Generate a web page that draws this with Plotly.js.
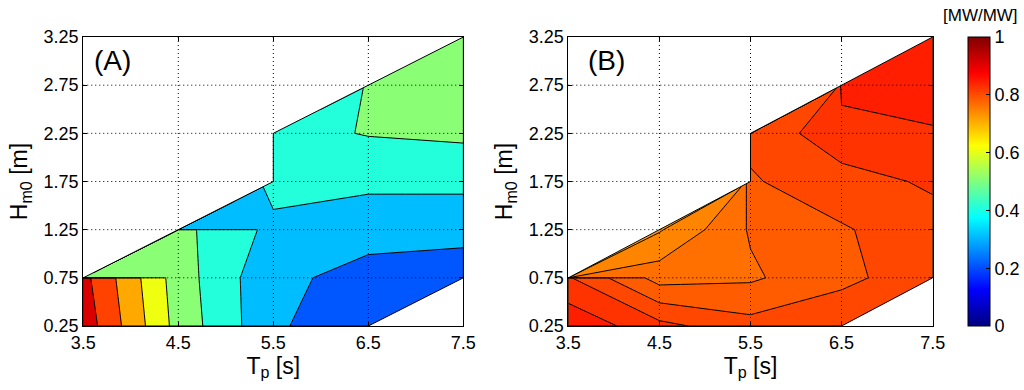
<!DOCTYPE html>
<html><head><meta charset="utf-8">
<script src="https://cdn.plot.ly/plotly-3.0.1.min.js"></script>
<style>html,body{margin:0;padding:0;background:#fff}#chart{width:1024px;height:390px}</style>
</head><body><div id="chart"></div>
<script>
// ---- data ----
const Tp = [3.5, 4.5, 5.5, 6.5, 7.5];
const Hm0 = [0.25, 0.75, 1.25, 1.75, 2.25, 2.75, 3.25];
// limits of the sea-state domain for each Tp column
const HmaxByTp = [0.75, 1.25, 2.25, 2.75, 3.25];
const HminByTp = [0.25, 0.25, 0.25, 0.25, 0.75];
// (A) values, rows = Hm0, columns = Tp
const zA = [
  [0.96, 0.563, 0.319, 0.21, 0.22],
  [0.93, 0.55, 0.32, 0.272, 0.25],
  [0.55, 0.53, 0.374, 0.33, 0.33],
  [0.55, 0.10, 0.436, 0.425, 0.425],
  [0.55, 0.45, 0.47, 0.505, 0.519],
  [0.55, 0.45, 0.41, 0.505, 0.55],
  [0.55, 0.45, 0.45, 0.55, 0.56]
];
// (B) values
const zB = [
  [0.856, 0.826, 0.807, 0.815, 0.81],
  [0.822, 0.772, 0.777, 0.795, 0.812],
  [0.72, 0.738, 0.782, 0.798, 0.812],
  [0.72, 0.40, 0.798, 0.812, 0.823],
  [0.72, 0.40, 0.805, 0.833, 0.838],
  [0.72, 0.40, 0.40, 0.845, 0.85],
  [0.72, 0.40, 0.40, 0.85, 0.85]
];
const levelsA = {start: 0.2, end: 0.9, size: 0.1};
const levelsB = {start: 0.74, end: 0.84, size: 0.02};
// outline of the sea-state domain
const outlineTp  = [3.5, 3.5, 4.5, 5.5, 5.5, 6.5, 7.5, 7.5, 6.5, 3.5];
const outlineHm0 = [0.25, 0.75, 1.25, 1.75, 2.25, 2.75, 3.25, 0.75, 0.25, 0.25];
// area without data (upper left)
const maskTp  = [3.5, 4.5, 5.5, 5.5, 6.5, 7.5, 7.5, 3.5, 3.5];
const maskHm0 = [0.75, 1.25, 1.75, 2.25, 2.75, 3.25, 3.25, 3.25, 0.75];
const xTicks = [3.5, 4.5, 5.5, 6.5, 7.5];
const xTickText = ['3.5', '4.5', '5.5', '6.5', '7.5'];
const yTicks = [0.25, 0.75, 1.25, 1.75, 2.25, 2.75, 3.25];
const yTickText = ['0.25', '0.75', '1.25', '1.75', '2.25', '2.75', '3.25'];
const cbTicks = [0, 0.2, 0.4, 0.6, 0.8, 1];
const cbTickText = ['0', '0.2', '0.4', '0.6', '0.8', '1'];

// ---- helpers ----
function clamp01(v){ return Math.max(0, Math.min(1, v)); }
function jet(v){
  v = clamp01(v);
  const r = clamp01(Math.min(4*v - 1.5, -4*v + 4.5));
  const g = clamp01(Math.min(4*v - 0.5, -4*v + 3.5));
  const b = clamp01(Math.min(4*v + 0.5, -4*v + 2.5));
  return 'rgb(' + Math.round(255*r) + ',' + Math.round(255*g) + ',' + Math.round(255*b) + ')';
}
const jetScale = [[0, jet(0)], [0.125, jet(0.125)], [0.375, jet(0.375)], [0.625, jet(0.625)], [0.875, jet(0.875)], [1, jet(1)]];
function bandScale(lv, shift){
  const nc = Math.round((lv.end - lv.start) / lv.size) + 1;
  const s = [];
  for (let i = 0; i <= nc; i++) s.push([i / nc, jet(lv.start + (i - 1) * lv.size + shift)]);
  return s;
}
const Xg = Hm0.map(() => Tp.slice());
const Yg = Hm0.map(h => Tp.map((t, i) => Math.min(Math.max(h, HminByTp[i]), HmaxByTp[i])));

const hiddenAxis = {smoothing: 0, showgrid: false, showline: false, startline: false, endline: false,
  showticklabels: 'none', minorgridcount: 0, gridcolor: 'rgba(0,0,0,0)', linecolor: 'rgba(0,0,0,0)',
  tickmode: 'array', tickvals: [], ticktext: [], title: {text: ''}};

function panel(id, z, lv, shift, xa, ya){
  return [
    {type: 'carpet', carpet: id, a: Tp, b: Hm0, x: Xg, y: Yg, xaxis: xa, yaxis: ya,
     aaxis: hiddenAxis, baxis: hiddenAxis, color: 'rgba(0,0,0,0)'},
    {type: 'contourcarpet', carpet: id, a: Tp, b: Hm0, z: z, xaxis: xa, yaxis: ya,
     autocontour: false, contours: {start: lv.start, end: lv.end, size: lv.size, coloring: 'fill', showlines: true},
     colorscale: bandScale(lv, shift), showscale: false,
     line: {color: '#000', width: 1, smoothing: 0}, hoverinfo: 'skip'},
    {type: 'scatter', x: maskTp, y: maskHm0, xaxis: xa, yaxis: ya, mode: 'lines', fill: 'toself',
     fillcolor: '#fff', line: {width: 0, color: '#fff'}, hoverinfo: 'skip', showlegend: false},
    {type: 'scatter', x: outlineTp, y: outlineHm0, xaxis: xa, yaxis: ya, mode: 'lines',
     line: {width: 1, color: '#000'}, hoverinfo: 'skip', showlegend: false}
  ];
}

const data = [].concat(
  panel('cA', zA, levelsA, 0.01, 'x', 'y'),
  panel('cB', zB, levelsB, 0.005, 'x2', 'y2'),
  [{type: 'scatter', x: [null], y: [null], xaxis: 'x2', yaxis: 'y2', mode: 'markers',
    marker: {color: [0.5], cmin: 0, cmax: 1, colorscale: jetScale, showscale: true,
      colorbar: {x: 0.945, xanchor: 'left', y: 0.5346, yanchor: 'middle', len: 0.741, lenmode: 'fraction',
        thickness: 22, thicknessmode: 'pixels', xpad: 0, ypad: 0, outlinewidth: 1, outlinecolor: '#000',
        ticks: 'inside', ticklen: 4, tickcolor: '#000', tickvals: cbTicks, ticktext: cbTickText,
        tickfont: {size: 18, color: '#000'}}},
    hoverinfo: 'skip', showlegend: false}]
);

const font = {family: 'Liberation Sans, Arial, sans-serif', size: 18, color: '#000'};
function xAxis(dom, anchor){
  return {domain: dom, anchor: anchor, range: [3.5, 7.5], tickmode: 'array', tickvals: xTicks, ticktext: xTickText,
    ticks: 'inside', ticklen: 4, tickcolor: '#000', showline: true, mirror: 'ticks', linecolor: '#000', linewidth: 1,
    showgrid: false, zeroline: false, tickfont: {size: 18},
    title: {text: 'T<sub>p</sub> [s]', font: {size: 23}, standoff: 0}};
}
function yAxis(dom, anchor){
  return {domain: dom, anchor: anchor, range: [0.25, 3.25], tickmode: 'array', tickvals: yTicks, ticktext: yTickText,
    ticks: 'inside', ticklen: 4, tickcolor: '#000', showline: true, mirror: 'ticks', linecolor: '#000', linewidth: 1,
    showgrid: false, zeroline: false, tickfont: {size: 18},
    title: {text: 'H<sub>m0</sub> [m]', font: {size: 23}, standoff: 9}};
}
const shapes = [];
[['x', 'y'], ['x2', 'y2']].forEach(([xa, ya]) => {
  xTicks.slice(1, -1).forEach(v => shapes.push({type: 'line', xref: xa, yref: ya + ' domain', x0: v, x1: v, y0: 0, y1: 1,
    line: {color: '#000', width: 1, dash: '1px,3px'}, layer: 'above'}));
  yTicks.slice(1, -1).forEach(v => shapes.push({type: 'line', xref: xa + ' domain', yref: ya, x0: 0, x1: 1, y0: v, y1: v,
    line: {color: '#000', width: 1, dash: '1px,3px'}, layer: 'above'}));
});

const layout = {
  width: 1024, height: 390, margin: {l: 0, r: 0, t: 0, b: 0},
  paper_bgcolor: '#fff', plot_bgcolor: '#fff', showlegend: false, hovermode: false, font: font,
  xaxis: xAxis([0.0813, 0.4525], 'y'), yaxis: yAxis([0.1641, 0.9051], 'x'),
  xaxis2: xAxis([0.555, 0.9108], 'y2'), yaxis2: yAxis([0.1641, 0.9051], 'x2'),
  shapes: shapes,
  annotations: [
    {text: '(A)', xref: 'paper', yref: 'paper', x: 0.0898, y: 0.846, xanchor: 'left', yanchor: 'middle', showarrow: false, font: {size: 28}},
    {text: '(B)', xref: 'paper', yref: 'paper', x: 0.5722, y: 0.846, xanchor: 'left', yanchor: 'middle', showarrow: false, font: {size: 28}},
    {text: '[MW/MW]', xref: 'paper', yref: 'paper', x: 0.958, y: 0.9615, xanchor: 'center', yanchor: 'middle', showarrow: false, font: {size: 17}}
  ]
};
Plotly.newPlot('chart', data, layout, {staticPlot: true, displayModeBar: false});
</script></body></html>
